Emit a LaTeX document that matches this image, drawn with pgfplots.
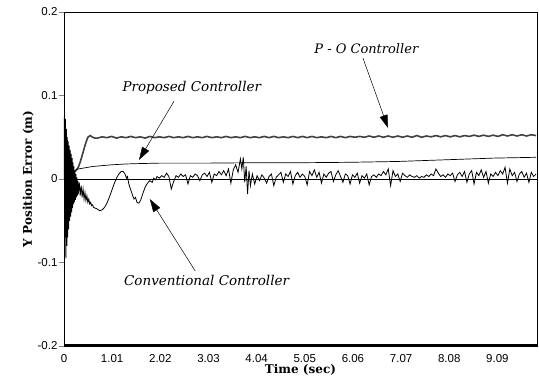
\documentclass[border=0pt]{standalone}
\usepackage{fontspec}
\setmainfont{DejaVu Serif}
\setsansfont{Liberation Sans}
\newfontfamily\lblfont{DejaVu Serif}
\usepackage{pgfplots}
\pgfplotsset{compat=1.18}
\usetikzlibrary{arrows.meta}
\begin{document}
\begin{tikzpicture}
\begin{axis}[name=ax, at={(0,0)}, anchor=south west,
  scale only axis, width=473pt, height=334pt,
  xmin=0, xmax=9.92, ymin=-0.2, ymax=0.2,
  xtick={0,1.01,2.02,3.03,4.04,5.05,6.06,7.07,8.08,9.09},
  xticklabels={0,1.01,2.02,3.03,4.04,5.05,6.06,7.07,8.08,9.09},
  ytick={-0.2,-0.1,0,0.1,0.2},
  yticklabels={-0.2,-0.1,0,0.1,0.2},
  tick align=outside, tick pos=left, major tick length=5pt,
  xtick style={draw=none},
  ytick style={line width=0.6pt},
  ticklabel style={font=\sffamily\fontsize{11.5}{13}\selectfont},
  xticklabel style={yshift=0pt},
  yticklabel style={xshift=2pt},
  axis line style={line width=0.8pt},
  xlabel={\lblfont\bfseries\fontsize{12}{14}\selectfont Time (sec)},
  ylabel={\lblfont\bfseries\fontsize{12}{14}\selectfont Y Position Error (m)},
  xlabel style={yshift=5pt},
  ylabel style={yshift=-3pt},
  clip=true,
]
% zero reference line
\addplot[black, line width=0.6pt] coordinates {(0,0) (9.92,0)};
% P-O controller
\addplot[black!75, line width=1.6pt] coordinates {
(0.2,0.008) (0.25,0.010) (0.30,0.014) (0.35,0.022) (0.40,0.032) (0.45,0.042) (0.50,0.050) (0.55,0.052) (0.60,0.050) (0.65,0.049)
(0.7,0.049) (0.8,0.0505) (0.9,0.0495) (1.0,0.051) (1.1,0.049) (1.2,0.0505) (1.3,0.0495) (1.4,0.051) (1.5,0.0495) (1.6,0.0505)
(1.7,0.049) (1.8,0.051) (1.9,0.0495) (2.0,0.0505) (2.1,0.0495) (2.2,0.051) (2.3,0.0495) (2.4,0.0505) (2.5,0.0495) (2.6,0.051)
(2.7,0.0495) (2.8,0.0505) (2.9,0.0495) (3.0,0.051) (3.1,0.0495) (3.2,0.0505) (3.3,0.0495) (3.4,0.051) (3.5,0.0495) (3.6,0.0505)
(3.7,0.0495) (3.8,0.051) (3.9,0.0495) (4.0,0.0505) (4.1,0.0495) (4.2,0.051) (4.3,0.0495) (4.4,0.051) (4.5,0.0495) (4.6,0.0505)
(4.7,0.0495) (4.8,0.051) (4.9,0.0495) (5.0,0.051) (5.1,0.0495) (5.2,0.051) (5.3,0.0495) (5.4,0.0505) (5.5,0.0495) (5.6,0.051)
(5.7,0.0495) (5.8,0.051) (5.9,0.0495) (6.0,0.051) (6.1,0.050) (6.2,0.051) (6.3,0.050) (6.4,0.0515) (6.5,0.050) (6.6,0.0515)
(6.7,0.050) (6.8,0.0515) (6.9,0.050) (7.0,0.0515) (7.1,0.050) (7.2,0.0515) (7.3,0.050) (7.4,0.052) (7.5,0.050) (7.6,0.0515)
(7.7,0.0505) (7.8,0.052) (7.9,0.0505) (8.0,0.052) (8.1,0.0505) (8.2,0.052) (8.3,0.0505) (8.4,0.052) (8.5,0.051) (8.6,0.0525)
(8.7,0.051) (8.8,0.0525) (8.9,0.051) (9.0,0.0525) (9.1,0.051) (9.2,0.053) (9.3,0.0515) (9.4,0.053) (9.5,0.0515) (9.6,0.053)
(9.7,0.0515) (9.8,0.053) (9.9,0.052)
};
% Proposed controller
\addplot[black, line width=0.7pt] coordinates {
(0.2,0.008) (0.25,0.011) (0.3,0.012) (0.4,0.013) (0.5,0.014) (0.6,0.015) (0.8,0.016) (1.0,0.017) (1.3,0.018) (1.6,0.0185)
(2.0,0.019) (3.0,0.019) (4.0,0.0195) (5.0,0.0195) (6.0,0.020) (7.0,0.021) (8.0,0.023) (9.0,0.025) (9.9,0.026)
};
% Conventional controller
\addplot[black, line width=0.8pt] coordinates {
(0,0) (0.01,0.088) (0.02,-0.07) (0.03,0.072) (0.04,-0.095) (0.05,0.06) (0.06,-0.08) (0.07,0.05) (0.08,-0.07) (0.09,0.045)
(0.10,-0.06) (0.11,0.04) (0.12,-0.05) (0.13,0.035) (0.14,-0.045) (0.15,0.03) (0.16,-0.04) (0.17,0.025) (0.18,-0.035) (0.19,0.02)
(0.20,-0.03) (0.21,0.015) (0.22,-0.028) (0.23,0.01) (0.24,-0.025) (0.25,0.006) (0.26,-0.022) (0.27,0.002) (0.28,-0.02) (0.29,-0.002)
(0.30,-0.018) (0.32,-0.004) (0.34,-0.02) (0.36,-0.008) (0.38,-0.022) (0.40,-0.012) (0.42,-0.024) (0.44,-0.016) (0.46,-0.026) (0.48,-0.02)
(0.50,-0.028) (0.52,-0.024) (0.54,-0.03) (0.56,-0.028) (0.58,-0.032) (0.60,-0.031) (0.62,-0.034)
(0.66,-0.035) (0.70,-0.036) (0.75,-0.038) (0.80,-0.037) (0.85,-0.034) (0.90,-0.029) (0.95,-0.022) (1.00,-0.014) (1.05,-0.006) (1.10,0.001)
(1.15,0.006) (1.20,0.009) (1.24,0.009) (1.28,0.006) (1.31,0.001) (1.33,0.003) (1.36,-0.006) (1.40,-0.013) (1.44,-0.020) (1.47,-0.024)
(1.50,-0.022) (1.53,-0.028) (1.57,-0.029) (1.61,-0.025) (1.65,-0.018) (1.70,-0.010) (1.75,-0.005) (1.80,-0.002) (1.85,-0.004) (1.88,0.001)
(1.92,-0.001)
(1.95,0.003) (2.00,0.001) (2.05,0.004) (2.10,0.002) (2.15,0.007) (2.20,0.003) (2.25,-0.012) (2.30,-0.003) (2.35,0.004) (2.40,0.002)
(2.45,0.006) (2.50,0.003) (2.55,0.005) (2.60,-0.006) (2.65,0.004) (2.70,0.002) (2.75,0.006) (2.80,0.004) (2.85,-0.002) (2.90,0.005)
(2.95,0.007) (3.00,0.003) (3.05,0.008) (3.10,-0.004) (3.15,0.006) (3.20,0.004) (3.25,0.009) (3.30,0.005) (3.35,0.010) (3.40,0.004)
(3.45,0.012) (3.50,-0.005) (3.55,0.011) (3.60,0.017) (3.65,0.008) (3.70,0.024) (3.73,0.012) (3.76,0.026) (3.79,-0.004) (3.82,0.015)
(3.85,-0.018) (3.88,0.010) (3.91,-0.008) (3.95,0.006) (4.00,-0.006)
(4.05,0.004) (4.10,-0.002) (4.15,0.005) (4.20,0.001) (4.25,-0.005) (4.30,0.003) (4.35,0.006) (4.40,-0.008) (4.45,0.002) (4.50,0.005)
(4.55,0.008) (4.60,-0.004) (4.65,0.006) (4.70,0.003) (4.75,0.009) (4.80,-0.006) (4.85,0.004) (4.90,0.008) (4.95,0.002) (5.00,0.006)
(5.05,0.003) (5.10,-0.007) (5.15,0.009) (5.20,0.004) (5.25,0.011) (5.30,0.002) (5.35,0.008) (5.40,-0.005) (5.45,0.006) (5.50,0.002)
(5.55,0.007) (5.60,0.009) (5.65,-0.003) (5.70,0.005) (5.75,0.010) (5.80,0.003) (5.85,-0.004) (5.90,0.006) (5.95,0.004) (6.00,-0.006)
(6.05,0.005) (6.10,0.002) (6.15,0.007) (6.20,-0.005) (6.25,0.004) (6.30,0.001) (6.35,0.006) (6.40,-0.007) (6.45,0.003) (6.50,0.005)
(6.55,0.002) (6.60,0.006) (6.65,0.004) (6.70,0.009) (6.75,0.005) (6.80,0.012) (6.85,-0.008) (6.90,0.010) (6.95,0.003) (7.00,0.006)
(7.05,-0.003) (7.10,0.007) (7.15,0.004) (7.20,0.002) (7.25,0.005) (7.30,0.003) (7.35,0.002) (7.40,0.004) (7.45,0.001) (7.50,0.003)
(7.55,0.002) (7.60,0.005) (7.65,0.003) (7.70,0.006) (7.75,0.004) (7.80,0.012) (7.85,0.007) (7.90,0.003) (7.95,0.005) (8.00,0.002)
(8.05,0.006) (8.10,0.004) (8.15,0.007) (8.20,-0.003) (8.25,0.005) (8.30,0.008) (8.35,0.003) (8.40,0.009) (8.45,-0.004) (8.50,0.006)
(8.55,0.010) (8.60,-0.006) (8.65,0.008) (8.70,0.004) (8.75,0.011) (8.80,0.002) (8.85,0.009) (8.90,-0.005) (8.95,0.006) (9.00,0.003)
(9.05,0.008) (9.10,0.004) (9.15,0.010) (9.20,0.006) (9.25,0.014) (9.30,-0.005) (9.35,0.012) (9.40,0.004) (9.45,0.008) (9.50,-0.003)
(9.55,0.006) (9.60,0.009) (9.65,0.002) (9.70,0.007) (9.75,-0.004) (9.80,0.008) (9.85,0.003) (9.90,0.006)
};
% thick bottom bar
\draw[line width=4pt] (rel axis cs:0,0) -- (rel axis cs:1,0);
% annotations
\node[font=\itshape\fontsize{13.5}{15}\selectfont] at (axis cs:2.68,0.109) {Proposed Controller};
\draw[line width=0.5pt, -{Triangle[length=13pt,width=8pt]}] (axis cs:2.31,0.0934) -- (axis cs:1.573,0.0228);
\node[font=\itshape\fontsize{13}{15}\selectfont] at (axis cs:6.34,0.1557) {P - O Controller};
\draw[line width=0.5pt, -{Triangle[length=13pt,width=8pt]}] (axis cs:6.27,0.1449) -- (axis cs:6.795,0.0611);
\node[font=\itshape\fontsize{13.5}{15}\selectfont] at (axis cs:2.99,-0.121) {Conventional Controller};
\draw[line width=0.5pt, -{Triangle[length=13pt,width=8pt]}] (axis cs:2.75,-0.110) -- (axis cs:1.80,-0.024);
\end{axis}
\pgfresetboundingbox
\useasboundingbox ([xshift=-64pt,yshift=-37pt]ax.south west) rectangle ([xshift=2pt,yshift=12pt]ax.north east);
\end{tikzpicture}
\end{document}
